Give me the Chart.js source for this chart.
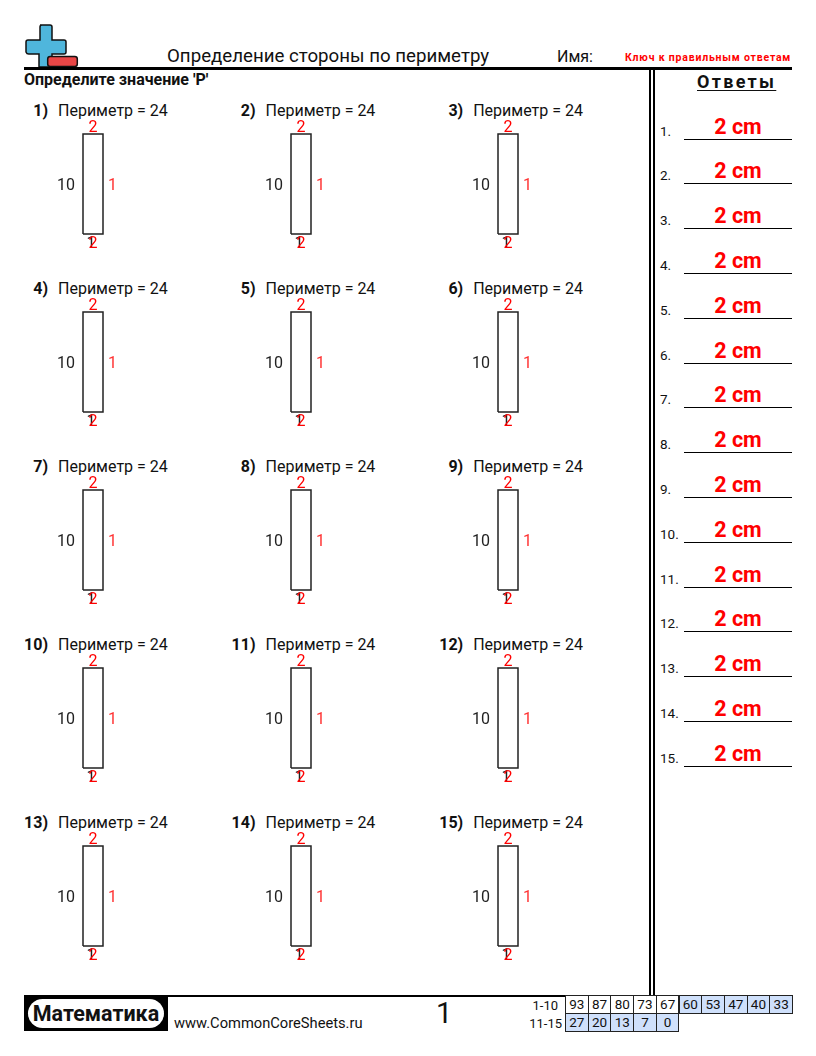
<!DOCTYPE html>
<html lang="ru">
<head>
<meta charset="utf-8">
<title>Определение стороны по периметру</title>
<script src="https://cdn.jsdelivr.net/npm/chart.js@4/dist/chart.umd.min.js"></script>
<style>
    html, body { margin: 0; padding: 0; background: #fff; }
    body { width: 816px; height: 1056px; position: relative; overflow: hidden; font-family: Roboto, sans-serif; color: #111; }
    .t { position: absolute; white-space: nowrap; line-height: 1; }
    .rule { position: absolute; background: #000; }
    canvas { position: absolute; }
    .cell { position: absolute; box-sizing: border-box; width: 23.7px; height: 19px; border: 1px solid #222; text-align: center; font-size: 13.5px; line-height: 17px; }
</style>
</head>
<body>
<svg style="position:absolute;left:0;top:0" width="100" height="75">
    <path d="M40 25h10a2 2 0 0 1 2 2v13h12a2 2 0 0 1 2 2v10a2 2 0 0 1 -2 2h-12v13h-13v-13h-10a3 3 0 0 1 -3 -2v-10a2 2 0 0 1 2 -2h12v-13a2 2 0 0 1 2 -2z" fill="#4fb6dc" stroke="#111" stroke-width="1.5"/>
    <rect x="47.7" y="56.5" width="29.6" height="10" rx="2.5" fill="#e94646" stroke="#111" stroke-width="1.5"/>
</svg>
<div class="t" style="left:167px;top:47px;font-size:18.7px">Определение стороны по периметру</div>
<div class="t" style="left:557px;top:49px;font-size:16px">Имя:</div>
<div class="t" style="left:625px;top:53px;font-size:10.5px;font-weight:700;color:#f00;letter-spacing:.8px">Ключ к правильным ответам</div>
<div class="rule" style="left:24px;top:67px;width:768px;height:2.5px"></div>
<div class="t" style="left:24px;top:72px;font-weight:700;font-size:16px">Определите значение 'P'</div>
<div class="t" style="left:697px;top:73px;font-size:18px;font-weight:700;letter-spacing:2.3px;text-decoration:underline;text-underline-offset:2px">Ответы</div>
<div class="rule" style="left:649px;top:68px;width:2px;height:928px"></div>
<div class="rule" style="left:653px;top:68px;width:2px;height:928px"></div>
<div class="rule" style="left:24px;top:995px;width:768px;height:1.5px"></div>
<div class="rule" style="left:24px;top:995px;width:144px;height:36px"></div>
<div style="position:absolute;left:28px;top:999px;width:136px;height:29px;border-radius:15px;background:#fff"></div>
<div class="t" style="left:24px;width:144px;text-align:center;top:1003px;font-size:21.5px;font-weight:700">Математика</div>
<div class="t" style="left:174px;top:1016px;font-size:14.7px">www.CommonCoreSheets.ru</div>
<div class="t" style="left:436px;top:999px;font-size:29px">1</div>
<div id="page"></div>
<script>
const problemNumbers = [1, 2, 3, 4, 5, 6, 7, 8, 9, 10, 11, 12, 13, 14, 15];
const perimeters = [24, 24, 24, 24, 24, 24, 24, 24, 24, 24, 24, 24, 24, 24, 24];
const rectWidths = [2, 2, 2, 2, 2, 2, 2, 2, 2, 2, 2, 2, 2, 2, 2];
const rectHeights = [10, 10, 10, 10, 10, 10, 10, 10, 10, 10, 10, 10, 10, 10, 10];
const rightLabels = [1, 1, 1, 1, 1, 1, 1, 1, 1, 1, 1, 1, 1, 1, 1];
const bottomBlackLabels = [1, 1, 1, 1, 1, 1, 1, 1, 1, 1, 1, 1, 1, 1, 1];
const answers = ['2 cm', '2 cm', '2 cm', '2 cm', '2 cm', '2 cm', '2 cm', '2 cm', '2 cm', '2 cm', '2 cm', '2 cm', '2 cm', '2 cm', '2 cm'];
const scoreLabels = ['1-10', '11-15'];
const scoreRow1 = [93, 87, 80, 73, 67, 60, 53, 47, 40, 33];
const scoreRow2 = [27, 20, 13, 7, 0];
const whiteScores = [93, 87, 80, 73, 67];

const page = document.getElementById('page');

function addText(left, top, text, css) {
    const d = document.createElement('div');
    d.className = 't';
    d.style.cssText = `left:${left}px;top:${top}px;${css || ''}`;
    d.textContent = text;
    page.appendChild(d);
    return d;
}

// draws the side labels next to the rectangle, placed from the chart's scales
const sideLabels = {
    id: 'sideLabels',
    afterDatasetsDraw(chart, args, opts) {
        const { ctx, scales: { x, y } } = chart;
        const cx = x.getPixelForValue(opts.w / 2);
        const cy = y.getPixelForValue(opts.h / 2);
        ctx.save();
        ctx.font = '16px Roboto';
        ctx.textBaseline = 'middle';
        ctx.textAlign = 'right';
        ctx.fillStyle = '#222';
        ctx.fillText(String(opts.h), x.getPixelForValue(0) - 8, cy + 2);
        ctx.textAlign = 'center';
        ctx.fillText(String(opts.bottomBlack), cx - 2, y.getPixelForValue(0) + 10);
        ctx.fillStyle = '#f00';
        ctx.fillText(String(opts.w), cx, y.getPixelForValue(opts.h) - 6.5);
        ctx.fillText(String(opts.w), cx, y.getPixelForValue(0) + 10);
        ctx.textAlign = 'left';
        ctx.fillStyle = '#f33';
        ctx.fillText(String(opts.right), x.getPixelForValue(opts.w) + 5, cy + 2);
        ctx.restore();
    }
};

problemNumbers.forEach((n, i) => {
    const col = i % 3;
    const row = Math.floor(i / 3);
    const left = 58 + col * 207.6;
    const top = 103 + row * 178;
    addText(left - 58, top, n + ')', 'width:48px;text-align:right;font-size:16px;font-weight:700');
    addText(left, top, 'Периметр = ' + perimeters[i], 'font-size:16px');

    const w = rectWidths[i];
    const h = rectHeights[i];
    const canvas = document.createElement('canvas');
    canvas.width = 100;
    canvas.height = 130;
    canvas.style.left = Math.round(left + 25 - 40) + 'px';
    canvas.style.top = (top + 31 - 15) + 'px';
    page.appendChild(canvas);
    new Chart(canvas, {
        type: 'scatter',
        data: {
            datasets: [{
                data: [{ x: 0, y: 0 }, { x: w, y: 0 }, { x: w, y: h }, { x: 0, y: h }, { x: 0, y: 0 }],
                showLine: true,
                borderColor: '#222',
                borderWidth: 1.5,
                pointRadius: 0,
                tension: 0
            }]
        },
        options: {
            responsive: false,
            animation: false,
            layout: { padding: 0 },
            plugins: {
                legend: { display: false },
                tooltip: { enabled: false },
                sideLabels: { w, h, right: rightLabels[i], bottomBlack: bottomBlackLabels[i] }
            },
            scales: {
                x: { display: false, min: -4, max: 6 },
                y: { display: false, min: -1.5, max: 11.5 }
            }
        },
        plugins: [sideLabels]
    });
});

// answer column
answers.forEach((a, i) => {
    const lineY = Math.round(138.5 + i * 44.8);
    addText(660, lineY - 14, (i + 1) + '.', 'font-size:13.5px');
    addText(684, lineY - 23, a, 'width:108px;text-align:center;font-size:21.5px;font-weight:700;color:#f00');
    const r = document.createElement('div');
    r.className = 'rule';
    r.style.cssText = `left:684px;top:${lineY}px;width:108px;height:1.3px`;
    page.appendChild(r);
});

// score table in the footer
[scoreRow1, scoreRow2].forEach((scores, r) => {
    const top = 995 + r * 18;
    addText(500, top + 4, scoreLabels[r], `width:${r ? 62 : 58}px;text-align:right;font-size:13px`);
    scores.forEach((s, c) => {
        const d = document.createElement('div');
        d.className = 'cell';
        d.style.left = (565 + c * 22.7) + 'px';
        d.style.top = top + 'px';
        d.style.background = whiteScores.includes(s) ? '#fff' : '#cfe0fb';
        d.textContent = s;
        page.appendChild(d);
    });
});
</script>
</body>
</html>
